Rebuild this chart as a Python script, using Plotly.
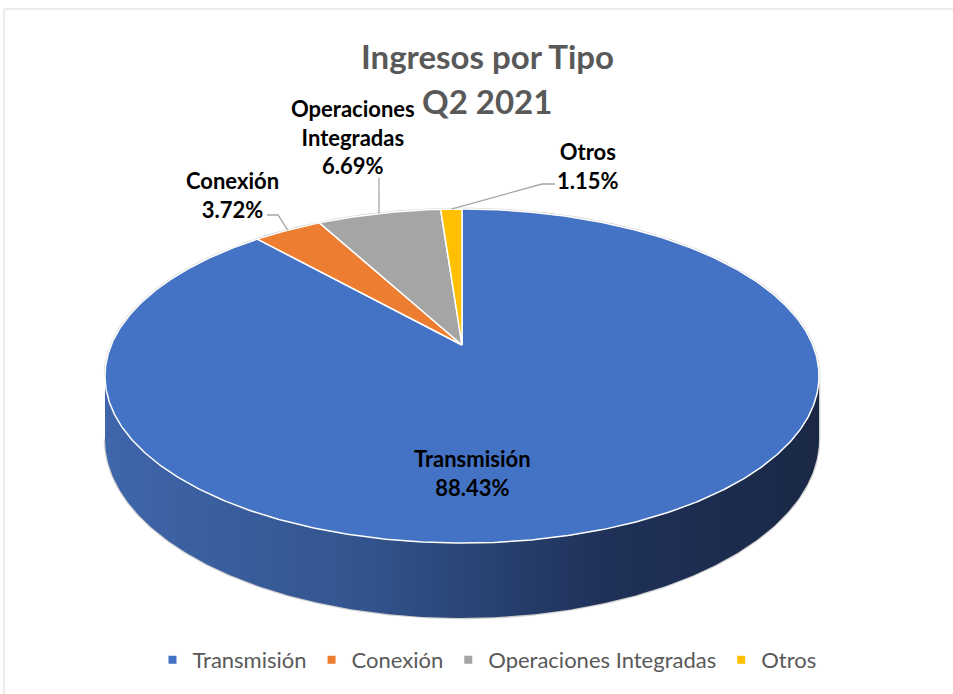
import math
import plotly.graph_objects as go

# ---- data ----
categories = ["Transmisión", "Conexión", "Operaciones Integradas", "Otros"]
values = [88.43, 3.72, 6.69, 1.15]
label_texts = ["Transmisión<br>88.43%", "Conexión<br>3.72%", "Operaciones<br>Integradas<br>6.69%", "Otros<br>1.15%"]
colors = ["#4472C4", "#ED7D31", "#A5A5A5", "#FFC000"]

# ---- pseudo-3D pie geometry (pixel-space axes) ----
CX, CY = 462.0, 345.0      # apex of slices
RX, RY = 350.8, 161.3      # projected radii
K = 0.1857                 # perspective factor
DEPTH = 61.0               # wall height

def proj(theta_deg, h=0.0):
    t = math.radians(theta_deg)
    u, v = math.sin(t), math.cos(t)
    w = 1 + K * v
    return CX + RX * u / w, CY + (-RY * v + DEPTH * h) / w

def arc(a0, a1, h=0.0, n=None):
    if n is None:
        n = max(4, int(abs(a1 - a0) * 2))
    xs, ys = [], []
    for i in range(n + 1):
        a = a0 + (a1 - a0) * i / n
        x, y = proj(a, h)
        xs.append(x); ys.append(y)
    return xs, ys

total = sum(values)
starts, ends = [], []
acc = 0.0
for v in values:
    starts.append(acc / total * 360)
    acc += v
    ends.append(acc / total * 360)

fig = go.Figure()

# silhouette (gray rim)
side_a = math.degrees(math.acos(-K))          # right silhouette angle
side_b = 360 - side_a                         # left silhouette angle
bx, by = arc(side_b, side_a + 360, 0)         # back rim, top
fx, fy = arc(side_a, side_b, 1)               # front rim, bottom
fig.add_trace(go.Scatter(x=bx + fx, y=by + fy, fill="toself", mode="lines",
                         line=dict(color="#cfcfcf", width=2.5), fillcolor="#cfcfcf",
                         hoverinfo="skip", showlegend=False))

# front wall (belongs to the slice covering the front)
for i, (s, e) in enumerate(zip(starts, ends)):
    a0, a1 = max(s, side_a), min(e, side_b)
    if a1 <= a0:
        continue
    tx, ty = arc(a0, a1, 0)
    wx, wy = arc(a1, a0, 1)
    fig.add_trace(go.Scatter(x=tx + wx, y=ty + wy, fill="toself", mode="lines",
                             line=dict(width=0, color="rgba(0,0,0,0)"),
                             fillgradient=dict(type="horizontal",
                                               colorscale=[[0, "#3f66ab"], [0.35, "#33558f"],
                                                           [0.7, "#1f3158"], [1, "#1a2846"]]),
                             hoverinfo="skip", showlegend=False))

# top faces
for i, (s, e) in enumerate(zip(starts, ends)):
    ax, ay = arc(s, e, 0)
    fig.add_trace(go.Scatter(x=[CX] + ax + [CX], y=[CY] + ay + [CY], fill="toself", mode="lines",
                             line=dict(color="white", width=1.5), fillcolor=colors[i],
                             name=categories[i], hoverinfo="name", showlegend=False))

# legend entries
for i, c in enumerate(categories):
    fig.add_trace(go.Scatter(x=[None], y=[None], mode="markers", name=c,
                             marker=dict(symbol="square", size=8, color=colors[i])))

FAM = "Lato, 'Open Sans', sans-serif"
LBL_FONT = dict(family=FAM, size=22, color="black", weight="bold")

# main slice label (inside)
fig.add_annotation(x=472, y=473, xref="x", yref="y", text="<b>" + label_texts[0] + "</b>",
                   showarrow=False, font=LBL_FONT, align="center")

# outside labels with leader lines
label_pos = {1: (232, 195), 2: (353, 137), 3: (588, 166)}
leader_elbow = {1: [(267, 215), (278, 215)], 2: [(379, 178)], 3: [(555, 184), (542, 184)]}
for i in (1, 2, 3):
    m = (starts[i] + ends[i]) / 2
    px, py = proj(m, 0)
    pts = leader_elbow[i] + [(px, py)]
    fig.add_trace(go.Scatter(x=[p[0] for p in pts], y=[p[1] for p in pts],
                             mode="lines", line=dict(color="#a6a6a6", width=1.3),
                             hoverinfo="skip", showlegend=False))
    lx, ly = label_pos[i]
    fig.add_annotation(x=lx, y=ly, xref="x", yref="y", text="<b>" + label_texts[i] + "</b>",
                       showarrow=False, font=LBL_FONT, align="center")

TITLE_FONT = dict(family=FAM, size=33, color="#595959", weight="bold")
fig.add_annotation(x=487, y=56, xref="x", yref="y", text="<b>Ingresos por Tipo</b>",
                   showarrow=False, font=TITLE_FONT)
fig.add_annotation(x=487, y=101, xref="x", yref="y", text="<b>Q2 2021</b>",
                   showarrow=False, font=TITLE_FONT)

# chart border
fig.add_shape(type="rect", x0=4, y0=9, x1=960, y1=700, xref="x", yref="y",
              line=dict(color="#d9d9d9", width=1))

fig.update_layout(
    width=953, height=694,
    margin=dict(l=0, r=0, t=0, b=0),
    paper_bgcolor="white", plot_bgcolor="white",
    xaxis=dict(range=[0, 953], visible=False, fixedrange=True),
    yaxis=dict(range=[694, 0], visible=False, fixedrange=True),
    showlegend=True,
    legend=dict(orientation="h", x=0.511, xanchor="center", y=1 - 660 / 694, yanchor="middle",
                font=dict(family=FAM, size=22, color="#595959"),
                bgcolor="rgba(0,0,0,0)"),
)

fig.write_html("out.html", config={"displayModeBar": False},
               post_script="document.body.style.margin='0';document.body.style.overflow='hidden';")
